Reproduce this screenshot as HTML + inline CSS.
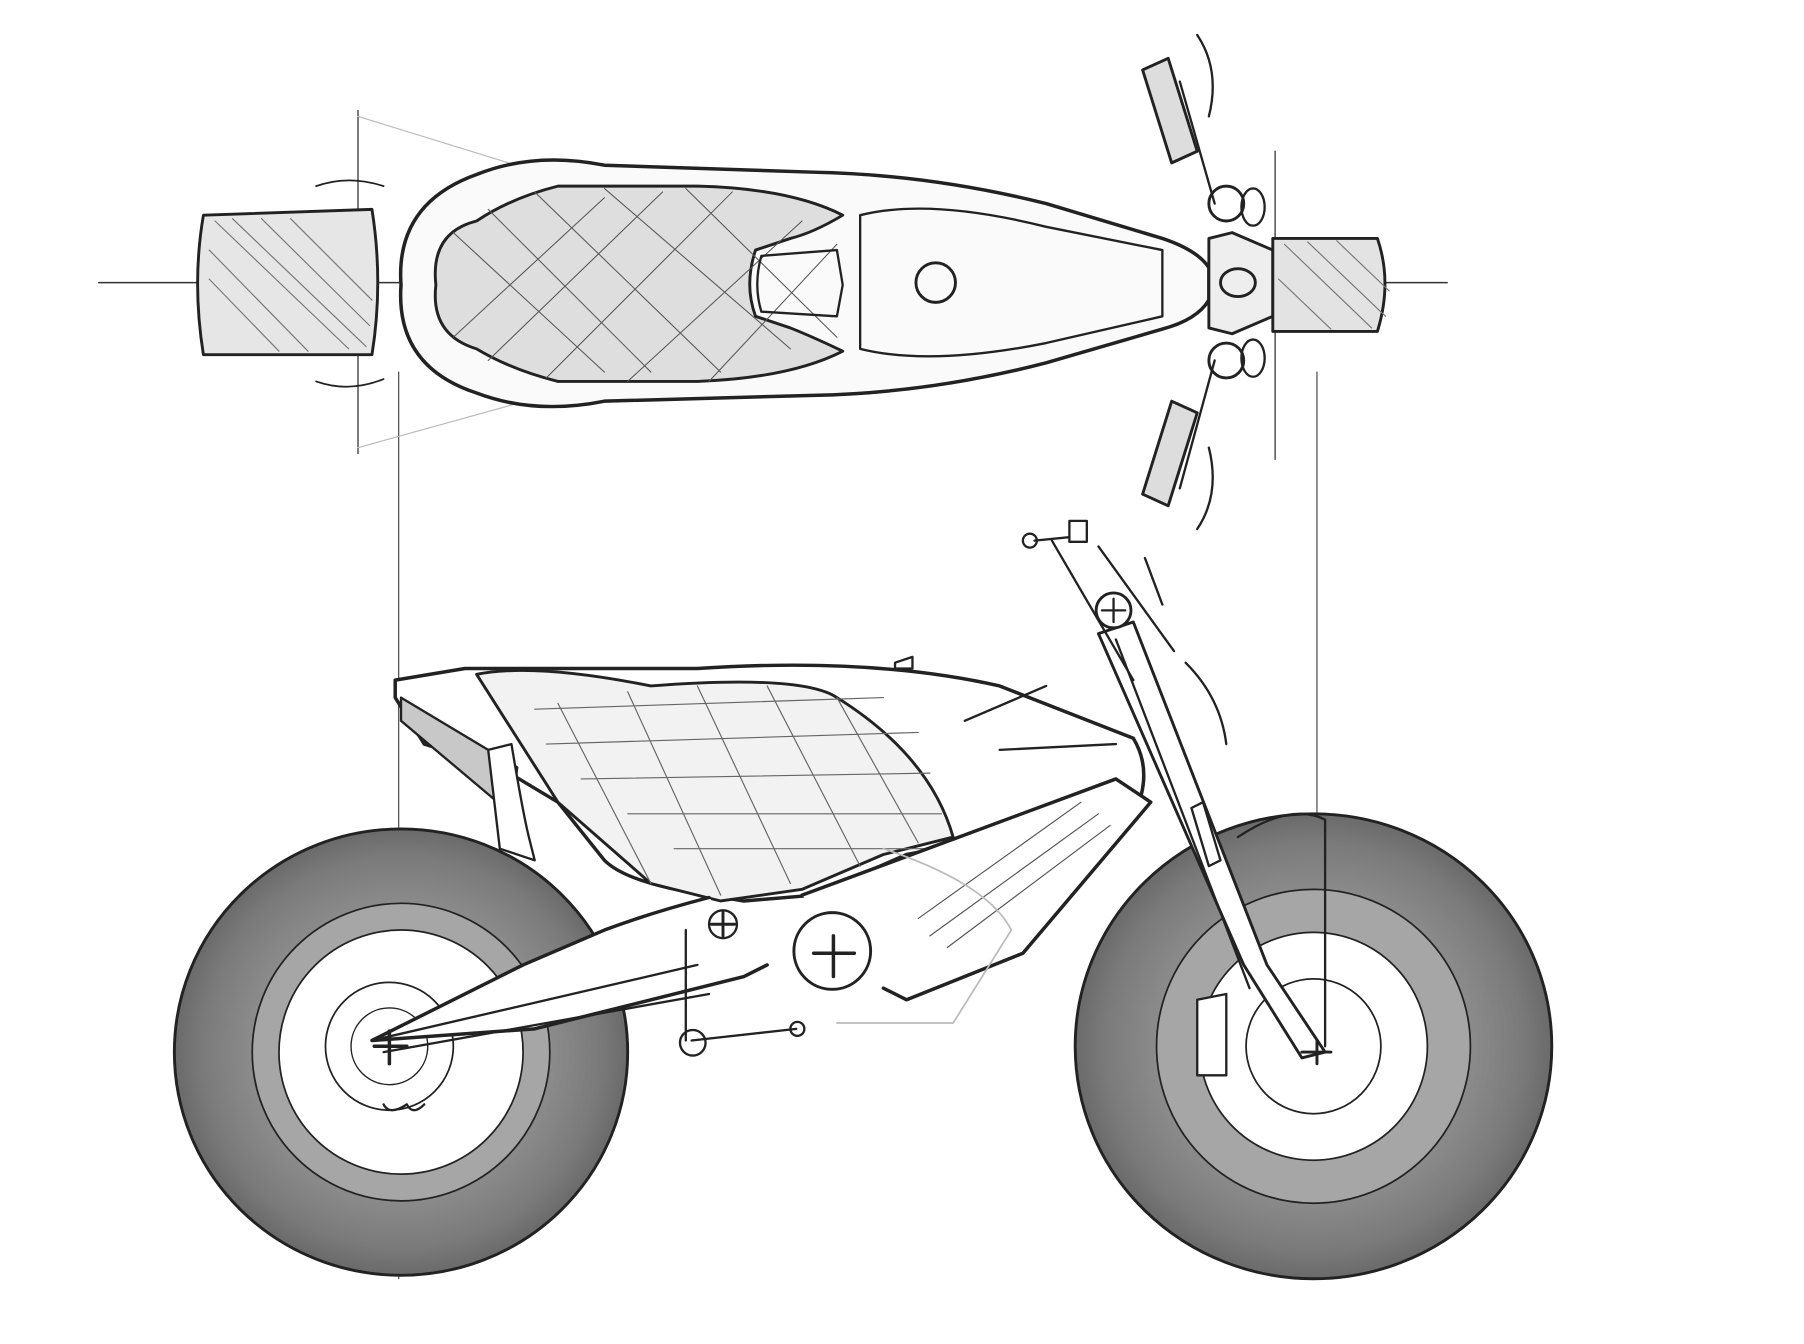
<!DOCTYPE html>
<html><head><meta charset="utf-8"><style>html,body{margin:0;padding:0;background:#fff}svg{display:block}</style></head>
<body>
<svg width="1804" height="1344" viewBox="0 0 1552 1156" xmlns="http://www.w3.org/2000/svg">
<defs>
<radialGradient id="tire" cx="50%" cy="50%" r="50%">
<stop offset="65%" stop-color="#8c8c8c"/><stop offset="88%" stop-color="#7a7a7a"/><stop offset="100%" stop-color="#6a6a6a"/>
</radialGradient>
</defs>
<rect width="1552" height="1156" fill="#fff"/>
<g fill="none" stroke="#222" stroke-linecap="round" stroke-linejoin="round">
<line x1="343" y1="320" x2="343" y2="1100" stroke="#444" stroke-width="1"/>
<line x1="1133" y1="320" x2="1133" y2="1100" stroke="#444" stroke-width="1"/>
<line x1="308" y1="95" x2="308" y2="390" stroke="#444" stroke-width="1.2"/>
<line x1="1097" y1="130" x2="1097" y2="395" stroke="#444" stroke-width="1.2"/>
<line x1="85" y1="243" x2="1245" y2="243" stroke="#333" stroke-width="1.3"/>
<line x1="308" y1="100" x2="470" y2="150" stroke="#bbb" stroke-width="1"/>
<line x1="308" y1="385" x2="470" y2="340" stroke="#bbb" stroke-width="1"/>

<path d="M175 185 L320 180 Q330 243 320 305 L175 305 Q165 243 175 185Z" fill="#e6e6e6" stroke-width="2.5"/>
<g stroke="#777" stroke-width="1">
<path d="M185 190 L300 300 M200 188 L315 298 M225 188 L318 280 M250 188 L320 258 M180 215 L265 302 M180 240 L240 302"/>
</g>
<path d="M272 160 Q300 150 330 160 M272 328 Q300 338 330 326" stroke-width="1.5"/>
<path d="M345 245 Q340 175 410 150 Q460 130 520 142 L700 148 Q800 150 900 175 L1000 205 Q1030 215 1040 230 L1040 258 Q1030 275 1000 283 L900 312 Q800 338 700 340 L520 345 Q460 357 410 338 Q340 315 345 245Z" fill="#fafafa" stroke-width="3"/>
<path d="M375 245 Q370 200 410 190 Q440 170 480 160 L600 160 Q680 162 725 185 Q700 200 680 205 L650 215 Q640 245 650 272 L680 282 Q700 290 725 302 Q680 325 600 328 L480 328 Q440 318 410 300 Q370 288 375 245Z" fill="#dedede" stroke-width="2.5"/>
<g stroke="#555" stroke-width="0.9">
<path d="M390 200 L520 320 M420 180 L560 320 M460 165 L620 320 M520 162 L680 300 M590 162 L720 290 M390 290 L520 170 M420 310 L570 165 M470 325 L630 165 M540 328 L690 190 M610 328 L720 210"/>
</g>
<path d="M655 220 L720 215 L725 245 L720 272 L655 268 Q648 245 655 220Z" stroke-width="2"/>
<path d="M740 185 Q800 170 900 195 L1000 215 L1000 272 L900 295 Q800 315 740 300Z" stroke-width="2"/>
<circle cx="805" cy="243" r="17" stroke-width="2.5"/>
<path d="M1040 205 L1060 200 L1095 215 L1095 272 L1060 287 L1040 282Z" fill="#eee" stroke-width="2.5"/>
<ellipse cx="1065" cy="243" rx="15" ry="12" stroke-width="2.5"/>
<path d="M1095 205 L1185 205 Q1198 243 1185 285 L1095 285Z" fill="#e3e3e3" stroke-width="2.5"/>
<g stroke="#777" stroke-width="1"><path d="M1105 210 L1180 282 M1125 208 L1192 272 M1100 240 L1145 283 M1150 207 L1195 250"/></g>
<path d="M1045 175 L1015 70 M1045 310 L1015 420" stroke-width="2"/>
<path d="M983 60 L1005 50 L1030 130 L1008 140Z" fill="#ddd" stroke-width="2.5"/>
<path d="M983 425 L1005 435 L1030 355 L1008 345Z" fill="#ddd" stroke-width="2.5"/>
<path d="M1030 30 Q1050 60 1040 100 M1030 455 Q1050 425 1040 385" stroke-width="2"/>
<circle cx="1055" cy="175" r="15" stroke-width="2.5"/><circle cx="1055" cy="310" r="15" stroke-width="2.5"/>
<ellipse cx="1078" cy="178" rx="10" ry="16" stroke-width="2"/><ellipse cx="1078" cy="308" rx="10" ry="16" stroke-width="2"/>

<ellipse cx="345" cy="905" rx="195" ry="192" fill="url(#tire)" stroke-width="2.5"/>
<circle cx="345" cy="905" r="128" fill="#a6a6a6" stroke-width="1.5"/>
<circle cx="345" cy="905" r="105" fill="#fff" stroke-width="1.5"/>
<circle cx="335" cy="900" r="55" stroke-width="1.5"/>
<circle cx="335" cy="900" r="33" stroke-width="1.2"/>
<ellipse cx="1130" cy="900" rx="205" ry="200" fill="url(#tire)" stroke-width="2.5"/>
<circle cx="1130" cy="900" r="135" fill="#a6a6a6" stroke-width="1.5"/>
<circle cx="1130" cy="900" r="98" fill="#fff" stroke-width="1.5"/>
<circle cx="1130" cy="900" r="58" stroke-width="1.5"/>

<path d="M340 585 L400 575 L600 575 Q750 565 860 590 L975 635 Q990 660 980 690 L860 720 L780 735 L700 770 L640 775 L610 770 Q540 760 520 740 L480 690 L430 660 L365 640 L340 600Z" fill="#fff" stroke-width="3"/>
<path d="M345 600 L345 620 L440 700 L445 660Z" fill="#c8c8c8" stroke-width="2"/>
<path d="M420 645 L440 640 Q450 700 455 720 L460 740 L430 730 Z" fill="#fff" stroke-width="2"/>
<path d="M410 580 Q460 570 560 590 Q690 580 720 600 Q800 650 820 720 L760 735 L690 765 L620 775 L560 760 L480 690Z" fill="#f2f2f2" stroke-width="2.5"/>
<g stroke="#666" stroke-width="1">
<path d="M460 610 L760 600 M470 640 L790 630 M500 670 L800 665 M540 700 L810 700 M580 730 L800 730 M480 605 L560 760 M540 595 L620 770 M600 590 L680 760 M660 590 L740 745 M720 600 L790 725"/>
</g>
<path d="M830 620 L900 590 M860 645 L960 640" stroke-width="2"/>
<path d="M770 570 L785 565 L785 575 L770 575Z" stroke-width="2"/>
<path d="M690 770 L960 670 L990 690 L880 820 L780 860 L760 850" fill="#fff" stroke-width="3"/>
<g stroke="#555" stroke-width="1"><path d="M790 790 L930 690 M800 805 L945 700 M815 815 L955 710"/></g>
<circle cx="716" cy="818" r="33" fill="#fff" stroke-width="2.5"/>
<path d="M700 820 L735 820 M717 805 L717 840" stroke-width="3"/>
<path d="M610 772 Q560 785 520 800 L450 830 L320 895 L460 885 L600 850 L640 840 L660 830" fill="#fff" stroke-width="3"/>
<path d="M320 895 L600 830 M330 905 L610 855" stroke-width="2"/>
<path d="M322 900 L350 900 M335 887 L335 915" stroke-width="3"/>
<circle cx="622" cy="795" r="12" stroke-width="2"/><path d="M612 795 L632 795 M622 785 L622 805" stroke-width="2.5"/>
<path d="M590 800 L590 895 M595 895 L685 885" stroke-width="2"/>
<circle cx="596" cy="897" r="11" stroke-width="2"/><circle cx="686" cy="885" r="6" stroke-width="2"/>
<path d="M330 950 q5 10 20 0 q5 10 15 0" stroke-width="2"/>
<path d="M760 730 Q850 760 870 800 L820 880 L720 880" stroke="#bbb" stroke-width="1.5"/>
<path d="M945 545 L975 535 L1090 830 L1140 905 L1120 910 L1070 830Z" fill="#fff" stroke-width="2.5"/>
<path d="M960 550 L1075 850 M1035 690 L1050 740 L1040 745 L1025 695Z" stroke-width="2"/>
<path d="M905 465 L975 585 M945 470 L1010 560 M985 480 L1000 520" stroke-width="2"/>
<circle cx="958" cy="525" r="15" fill="#fff" stroke-width="2.5"/><path d="M948 525 L968 525 M958 515 L958 535" stroke-width="2"/>
<path d="M890 465 L920 462" stroke-width="2"/>
<circle cx="886" cy="465" r="6" stroke-width="2"/>
<path d="M920 448 L935 448 L935 466 L920 466Z" stroke-width="2"/>
<path d="M1020 570 Q1050 600 1055 640" stroke-width="2"/>
<path d="M1065 720 Q1110 690 1140 705 L1140 900" stroke-width="2"/>
<path d="M1030 860 L1055 855 L1055 925 L1030 925Z" fill="#fff" stroke-width="2"/>
<path d="M1120 905 L1145 905 M1133 895 L1133 915" stroke-width="2.5"/>
</g>
</svg>
</body></html>
